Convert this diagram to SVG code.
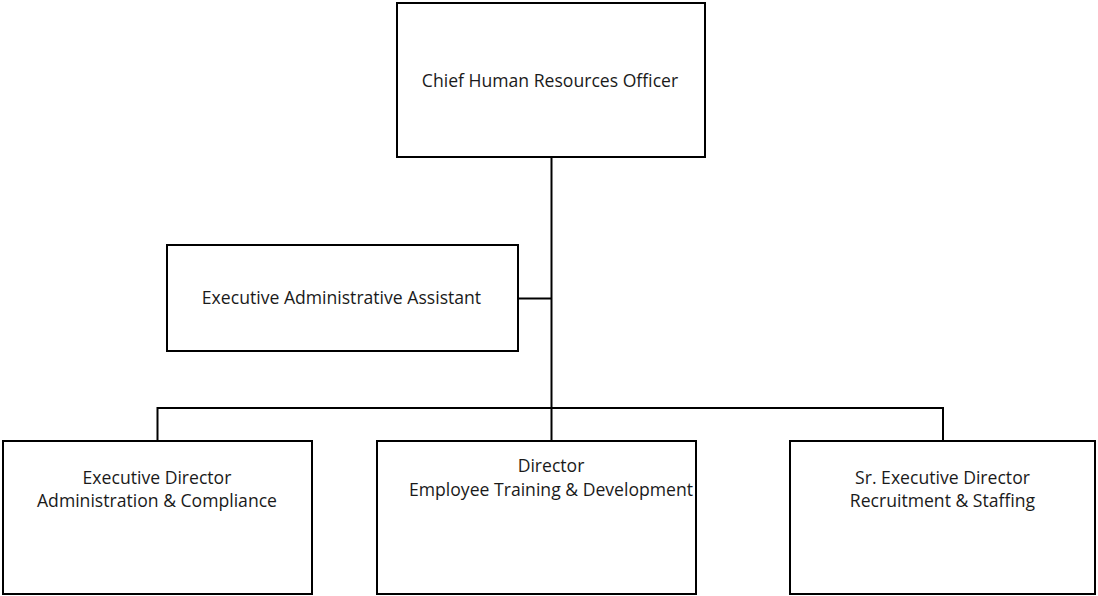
<svg xmlns="http://www.w3.org/2000/svg" width="1098" height="596" viewBox="0 0 1098 596">
<style>
.box{fill:#ffffff;stroke:#000000;stroke-width:2}
.ln{fill:none;stroke:#000000;stroke-width:2}
.t{font-family:"Open Sans","Liberation Sans",sans-serif;font-size:17.6px;fill:#1a1a1a;text-anchor:middle}
</style>
<rect width="1098" height="596" fill="#ffffff"/>
<g id="connectors">
<path class="ln" d="M551.5 157 V408"/>
<path class="ln" d="M518 298.5 H551.5"/>
<path class="ln" d="M157.5 441 V408 H943 V441"/>
<path class="ln" d="M551.5 408 V441"/>
</g>
<g id="cho">
<rect class="box" x="397" y="3" width="308" height="154"/>
<text class="t" x="550" y="87">Chief Human Resources Officer</text>
</g>
<g id="eaa">
<rect class="box" x="167" y="245" width="351" height="106"/>
<text class="t" x="341.5" y="304">Executive Administrative Assistant</text>
</g>
<g id="ed-admin">
<rect class="box" x="3" y="441" width="309" height="153"/>
<text class="t" x="157" y="484">Executive Director</text>
<text class="t" x="157" y="507">Administration &amp; Compliance</text>
</g>
<g id="dir-training">
<rect class="box" x="377" y="441" width="319" height="153"/>
<text class="t" x="551" y="472">Director</text>
<text class="t" x="551" y="496">Employee Training &amp; Development</text>
</g>
<g id="sr-ed-recruit">
<rect class="box" x="790" y="441" width="305" height="153"/>
<text class="t" x="942.5" y="484">Sr. Executive Director</text>
<text class="t" x="942.5" y="507">Recruitment &amp; Staffing</text>
</g>
</svg>
